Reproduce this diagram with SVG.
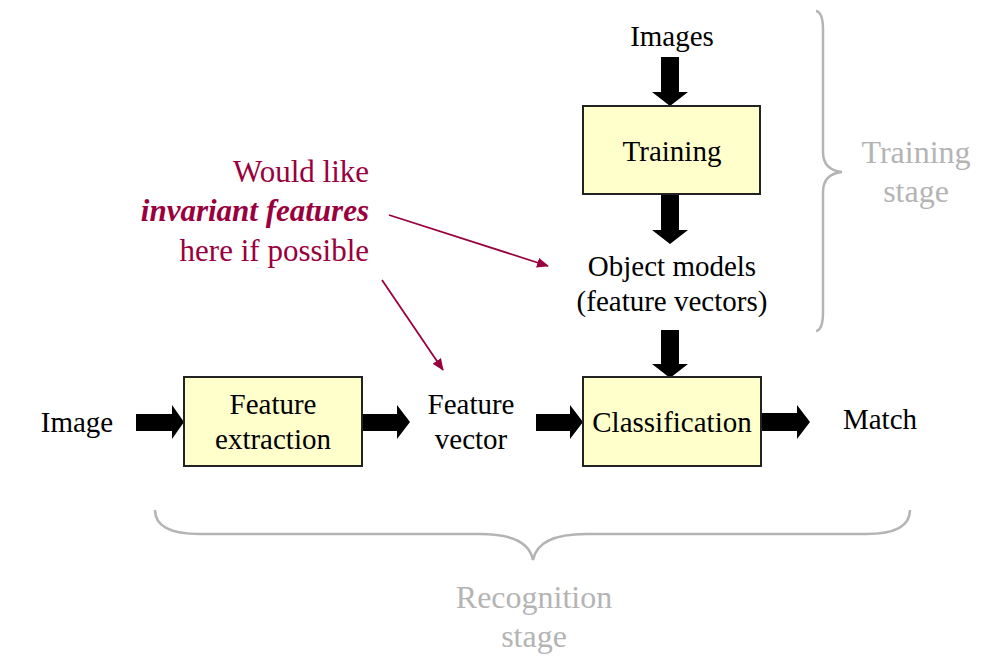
<svg xmlns="http://www.w3.org/2000/svg" width="992" height="663" viewBox="0 0 992 663" font-family="Liberation Serif, Times New Roman, serif">
<style>
.t{font-size:29px;fill:#000;text-anchor:middle}
.g{font-size:32px;fill:#b4b4b4;text-anchor:middle}
.a{font-size:31px;fill:#99003d;text-anchor:end}
.box{fill:#ffffcc;stroke:#222;stroke-width:2}
.brace{fill:none;stroke:#b4b4b4;stroke-width:2.5}
.ann{stroke:#99003d;stroke-width:1.8;fill:none}
</style>
<defs>
<marker id="ah" markerWidth="12" markerHeight="10" refX="11" refY="5" orient="auto" markerUnits="userSpaceOnUse">
<path d="M0,0 L12,5 L0,10 Z" fill="#99003d"/>
</marker>
</defs>
<g id="connectors">
<polygon points="661,57 679,57 679,92 688,92 670,106 652,92 661,92"/>
<polygon points="661,195 679,195 679,230 688,230 670,244 652,230 661,230"/>
<polygon points="661,330 679,330 679,364 688,364 670,378 652,364 661,364"/>
<polygon points="136,414 172,414 172,405 184,422 172,439 172,431 136,431"/>
<polygon points="362,414 397,414 397,405 410,422 397,439 397,431 362,431"/>
<polygon points="536,414 570,414 570,405 583,422 570,439 570,431 536,431"/>
<polygon points="761,413 797,413 797,405 810,422 797,439 797,431 761,431"/>
<line class="ann" x1="389" y1="215" x2="548" y2="266" marker-end="url(#ah)"/>
<line class="ann" x1="382" y1="280" x2="443" y2="370" marker-end="url(#ah)"/>
</g>
<g id="images"><text class="t" x="672" y="46" font-family="Liberation Serif">Images</text></g>
<g id="training"><rect class="box" x="583" y="106" width="177" height="88"/><text class="t" x="672" y="161">Training</text></g>
<g id="object-models"><text class="t" x="672" y="276">Object models</text><text class="t" x="672" y="311">(feature vectors)</text></g>
<g id="image"><text class="t" x="77" y="432">Image</text></g>
<g id="feature-extraction"><rect class="box" x="184" y="377" width="178" height="89"/><text class="t" x="273" y="414">Feature</text><text class="t" x="273" y="449">extraction</text></g>
<g id="feature-vector"><text class="t" x="471" y="414">Feature</text><text class="t" x="471" y="449">vector</text></g>
<g id="classification"><rect class="box" x="583" y="377" width="178" height="89"/><text class="t" x="672" y="432">Classification</text></g>
<g id="match"><text class="t" x="880" y="429">Match</text></g>
<g id="annotation">
<text class="a" x="369" y="182">Would like</text>
<text class="a" x="369" y="221" font-weight="bold" font-style="italic">invariant features</text>
<text class="a" x="369" y="261">here if possible</text>
</g>
<g id="training-stage">
<path class="brace" d="M816,11 Q823,12 823,30 L823,152 Q823,170 842,172 Q823,174 823,192 L823,312 Q823,330 816,331"/>
<text class="g" x="916" y="163">Training</text>
<text class="g" x="916" y="202">stage</text>
</g>
<g id="recognition-stage">
<path class="brace" d="M155,510 Q155,534 200,534 L480,534 Q528,534 533,560 Q538,534 586,534 L866,534 Q910,534 910,510"/>
<text class="g" x="534" y="608">Recognition</text>
<text class="g" x="534" y="647">stage</text>
</g>
</svg>
